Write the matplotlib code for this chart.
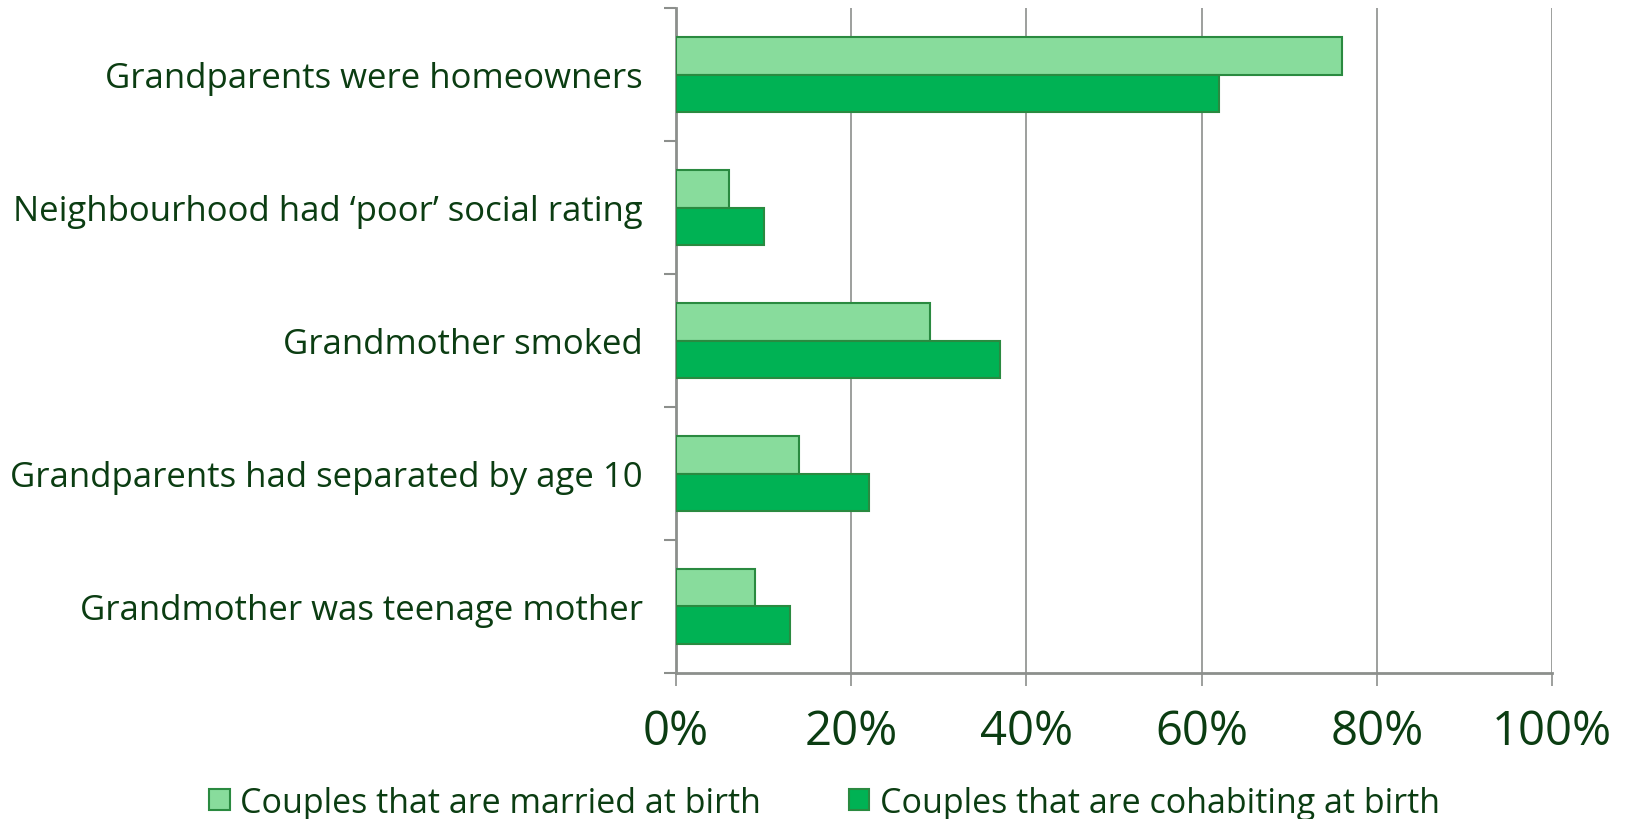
import matplotlib
matplotlib.use("Agg")
import matplotlib.pyplot as plt
import numpy as np

categories = [
    "Grandparents were homeowners",
    "Neighbourhood had \u2018poor\u2019 social rating",
    "Grandmother smoked",
    "Grandparents had separated by age 10",
    "Grandmother was teenage mother",
]
married = [76, 6, 29, 14, 9]
cohabiting = [62, 10, 37, 22, 13]
series_labels = ["Couples that are married at birth", "Couples that are cohabiting at birth"]
xticks = [0, 20, 40, 60, 80, 100]
xtick_labels = ["0%", "20%", "40%", "60%", "80%", "100%"]

TEXT = "#0b3d12"
GRID = "#8c8f8c"
plt.rcParams['font.family'] = ['Open Sans', 'DejaVu Sans']

fig = plt.figure(figsize=(16.26, 8.2), dpi=100)
ax = fig.add_axes([676/1626, 1-674/820, (1552-676)/1626, (674-9)/820])

y = np.arange(len(categories))
h = 0.28
ax.barh(y - h/2, married, height=h, color="#88dc9c", edgecolor="#2a8a40", linewidth=1.5,
        label=series_labels[0], zorder=3)
ax.barh(y + h/2, cohabiting, height=h, color="#00b254", edgecolor="#2a8a40", linewidth=1.5,
        label=series_labels[1], zorder=3)

ax.set_xlim(0, 100)
ax.set_ylim(len(categories) - 0.5, -0.5)
ax.set_xticks(xticks)
ax.set_xticklabels(xtick_labels, fontsize=34, color=TEXT)
ax.set_yticks(y)
ax.set_yticklabels(categories, fontsize=25, color=TEXT)
ax.set_yticks(np.arange(-0.5, len(categories), 1), minor=True)
ax.tick_params(axis='y', which='major', length=0, pad=24)
ax.tick_params(axis='y', which='minor', length=9, width=1.5, color=GRID, direction='out')
ax.tick_params(axis='x', which='major', length=9, width=1.2, color=GRID, pad=16)

ax.grid(axis='x', color=GRID, linewidth=1.2, zorder=0)
for s in ['top', 'right']:
    ax.spines[s].set_visible(False)
for s in ['left', 'bottom']:
    ax.spines[s].set_color(GRID)
    ax.spines[s].set_linewidth(2)

leg = fig.legend(loc='center', bbox_to_anchor=(0.507, 0.02), ncol=2, frameon=False,
                 fontsize=24.5, handlelength=0.6, handleheight=0.6, handletextpad=0.3,
                 columnspacing=2.6, borderaxespad=0)
for t in leg.get_texts():
    t.set_color(TEXT)

fig.savefig("out.png", dpi=100)
